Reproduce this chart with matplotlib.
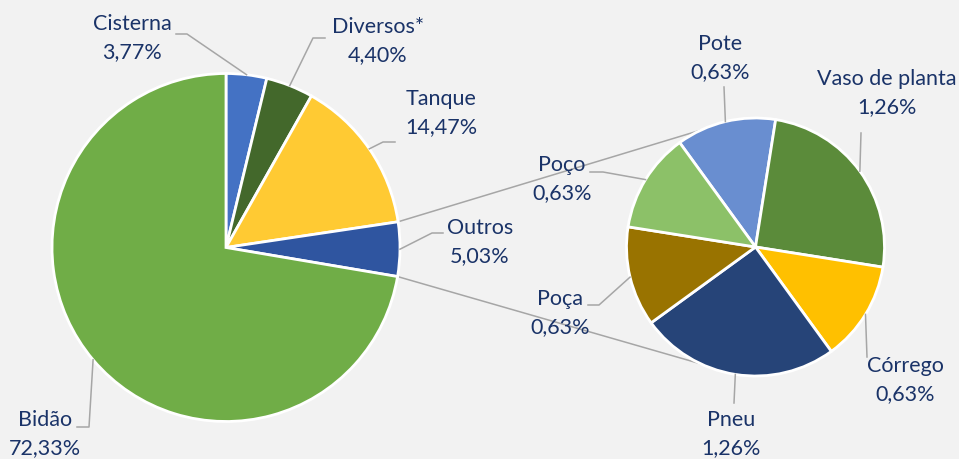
import numpy as np
import matplotlib
matplotlib.use('Agg')
import matplotlib.pyplot as plt

# main pie
main_labels = ['Cisterna', 'Diversos*', 'Tanque', 'Outros', 'Bidão']
main_values = [3.77, 4.40, 14.47, 5.03, 72.33]
main_colors = ['#4472C4', '#43682B', '#FFCA33', '#2F55A0', '#70AD47']

# breakdown of "Outros"
sub_labels = ['Pote', 'Vaso de planta', 'Córrego', 'Pneu', 'Poça', 'Poço']
sub_values = [0.63, 1.26, 0.63, 1.26, 0.63, 0.63]
sub_colors = ['#698ED0', '#5B8B3A', '#FFC000', '#264478', '#997300', '#8CC168']

H = 459
TEXT = '#1A3368'
LINE = '#A6A6A6'

# label layout (pixel coords, y from top): text centre, leader points before wedge
main_pos = {'Cisterna': ((132, 38), [(176, 34), (187, 34)]),
            'Diversos*': ((378, 41), [(325, 38), (313, 38)]),
            'Tanque': ((441, 113), [(395, 142), (383, 142)]),
            'Outros': ((480, 242), [(443, 233), (432, 233)]),
            'Bidão': ((45, 434), [(77, 427), (89, 427)])}
sub_pos = {'Pote': ((720, 58), [(724, 87)]),
           'Vaso de planta': ((887, 93), [(861, 133)]),
           'Córrego': ((905, 380), [(867, 357)]),
           'Pneu': ((731, 434), [(734, 403)]),
           'Poça': ((560, 313), [(588, 305), (599, 305)]),
           'Poço': ((562, 179), [(590, 172), (603, 172)])}

fig = plt.figure(figsize=(9.59, 4.59), dpi=100, facecolor='#F2F2F2')
ax = fig.add_axes([0, 0, 1, 1])
ax.set_facecolor('#F2F2F2')

wp = dict(edgecolor='white', linewidth=2)
main_w, _ = ax.pie(main_values, colors=main_colors, startangle=90, counterclock=False,
                   center=(226, H - 247.5), radius=174, wedgeprops=wp, frame=True)
sub_w, _ = ax.pie(sub_values, colors=sub_colors, startangle=126, counterclock=False,
                  center=(755.5, H - 247), radius=129, wedgeprops=wp, frame=True)


def edge_point(w, ang=None):
    if ang is None:
        ang = (w.theta1 + w.theta2) / 2
    a = np.deg2rad(ang)
    return w.center[0] + w.r * np.cos(a), w.center[1] + w.r * np.sin(a)


# connector lines between "Outros" and the second pie
outros = main_w[main_labels.index('Outros')]
sw = sub_w[0]
for a_main, a_sub in [(outros.theta2, 115), (outros.theta1, -115)]:
    p1 = edge_point(outros, a_main)
    p2 = edge_point(sw, a_sub)
    ax.plot([p1[0], p2[0]], [p1[1], p2[1]], color=LINE, lw=1.1, zorder=0.5)


def fmt(v):
    return f'{v:.2f}'.replace('.', ',') + '%'


def put_labels(wedges, labels, values, pos):
    for w, lab, v in zip(wedges, labels, values):
        (tx, ty), pts = pos[lab]
        ex, ey = edge_point(w)
        xs = [p[0] for p in pts] + [ex]
        ys = [H - p[1] for p in pts] + [ey]
        ax.plot(xs, ys, color=LINE, lw=1.1, zorder=3)
        ax.text(tx, H - ty, lab + '\n' + fmt(v), ha='center', va='center',
                fontsize=15.5, color=TEXT, family=['Lato', 'DejaVu Sans'],
                linespacing=1.45, zorder=4)


put_labels(main_w, main_labels, main_values, main_pos)
put_labels(sub_w, sub_labels, sub_values, sub_pos)

ax.set_xlim(0, 959)
ax.set_ylim(0, H)
ax.set_aspect('equal')
ax.axis('off')

fig.savefig('out.png', dpi=100, facecolor=fig.get_facecolor())
